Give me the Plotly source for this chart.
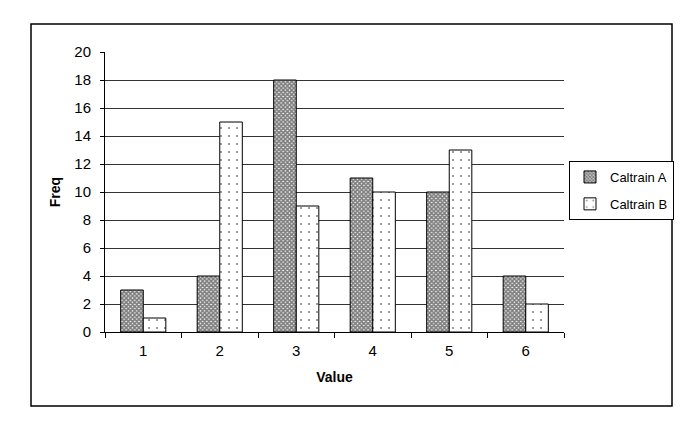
import plotly.graph_objects as go

categories = ["1", "2", "3", "4", "5", "6"]
caltrain_a = [3, 4, 18, 11, 10, 4]
caltrain_b = [1, 15, 9, 10, 13, 2]

W, H = 696, 427
L, R, T, B = 105, 132, 52, 95
pw, ph = W - L - R, H - T - B

def px(x):
    return (x - L) / pw

def py(y):
    return (H - B - y) / ph

fig = go.Figure()
fig.add_trace(go.Bar(
    x=categories, y=caltrain_a, name="Caltrain A", legendgroup="a",
    marker=dict(color="white", line=dict(color="black", width=1),
                pattern=dict(shape="x", size=3, solidity=0.8,
                             fgcolor="#000000", bgcolor="white")),
))
fig.add_trace(go.Bar(
    x=categories, y=caltrain_b, name="Caltrain B", legendgroup="b",
    marker=dict(color="white", line=dict(color="black", width=1),
                pattern=dict(shape=".", size=8, solidity=0.05,
                             fgcolor="black", bgcolor="white")),
))

fam = "Liberation Sans, Arial, sans-serif"

fig.update_layout(
    width=W, height=H,
    margin=dict(l=L, r=R, t=T, b=B, autoexpand=False),
    paper_bgcolor="white", plot_bgcolor="white",
    barmode="group", bargap=0.41, bargroupgap=0,
    font=dict(family=fam, size=14, color="black"),
    showlegend=True,
    legend=dict(x=px(569), y=py(190.5), xanchor="left", yanchor="middle",
                bordercolor="black", borderwidth=1, bgcolor="white",
                font=dict(family=fam, size=13, color="black"),
                itemwidth=30, traceorder="grouped", tracegroupgap=7),
    xaxis=dict(
        title=dict(text="<b>Value</b>", font=dict(family=fam, size=14), standoff=14),
        tickfont=dict(family=fam, size=15, color="black"),
        ticklabelstandoff=5,
        showline=True, linecolor="black", linewidth=1,
        ticks="outside", ticklen=5, tickcolor="black", tickson="boundaries",
        showgrid=False, mirror=False, automargin=False,
    ),
    yaxis=dict(
        title=dict(text="<b>Freq</b>", font=dict(family=fam, size=14), standoff=10),
        tickfont=dict(family=fam, size=15, color="black"),
        ticklabelstandoff=6,
        range=[0, 20], dtick=2, tick0=0,
        showline=True, linecolor="black", linewidth=1,
        ticks="outside", ticklen=4, tickcolor="black",
        showgrid=True, gridcolor="#333333", gridwidth=1,
        zeroline=False, automargin=False,
    ),
    shapes=[dict(type="rect", xref="paper", yref="paper",
                 x0=px(31), x1=px(672), y0=py(406), y1=py(24),
                 line=dict(color="black", width=1.5), fillcolor="rgba(0,0,0,0)",
                 layer="below")],
)

fig.write_html("out.html")
